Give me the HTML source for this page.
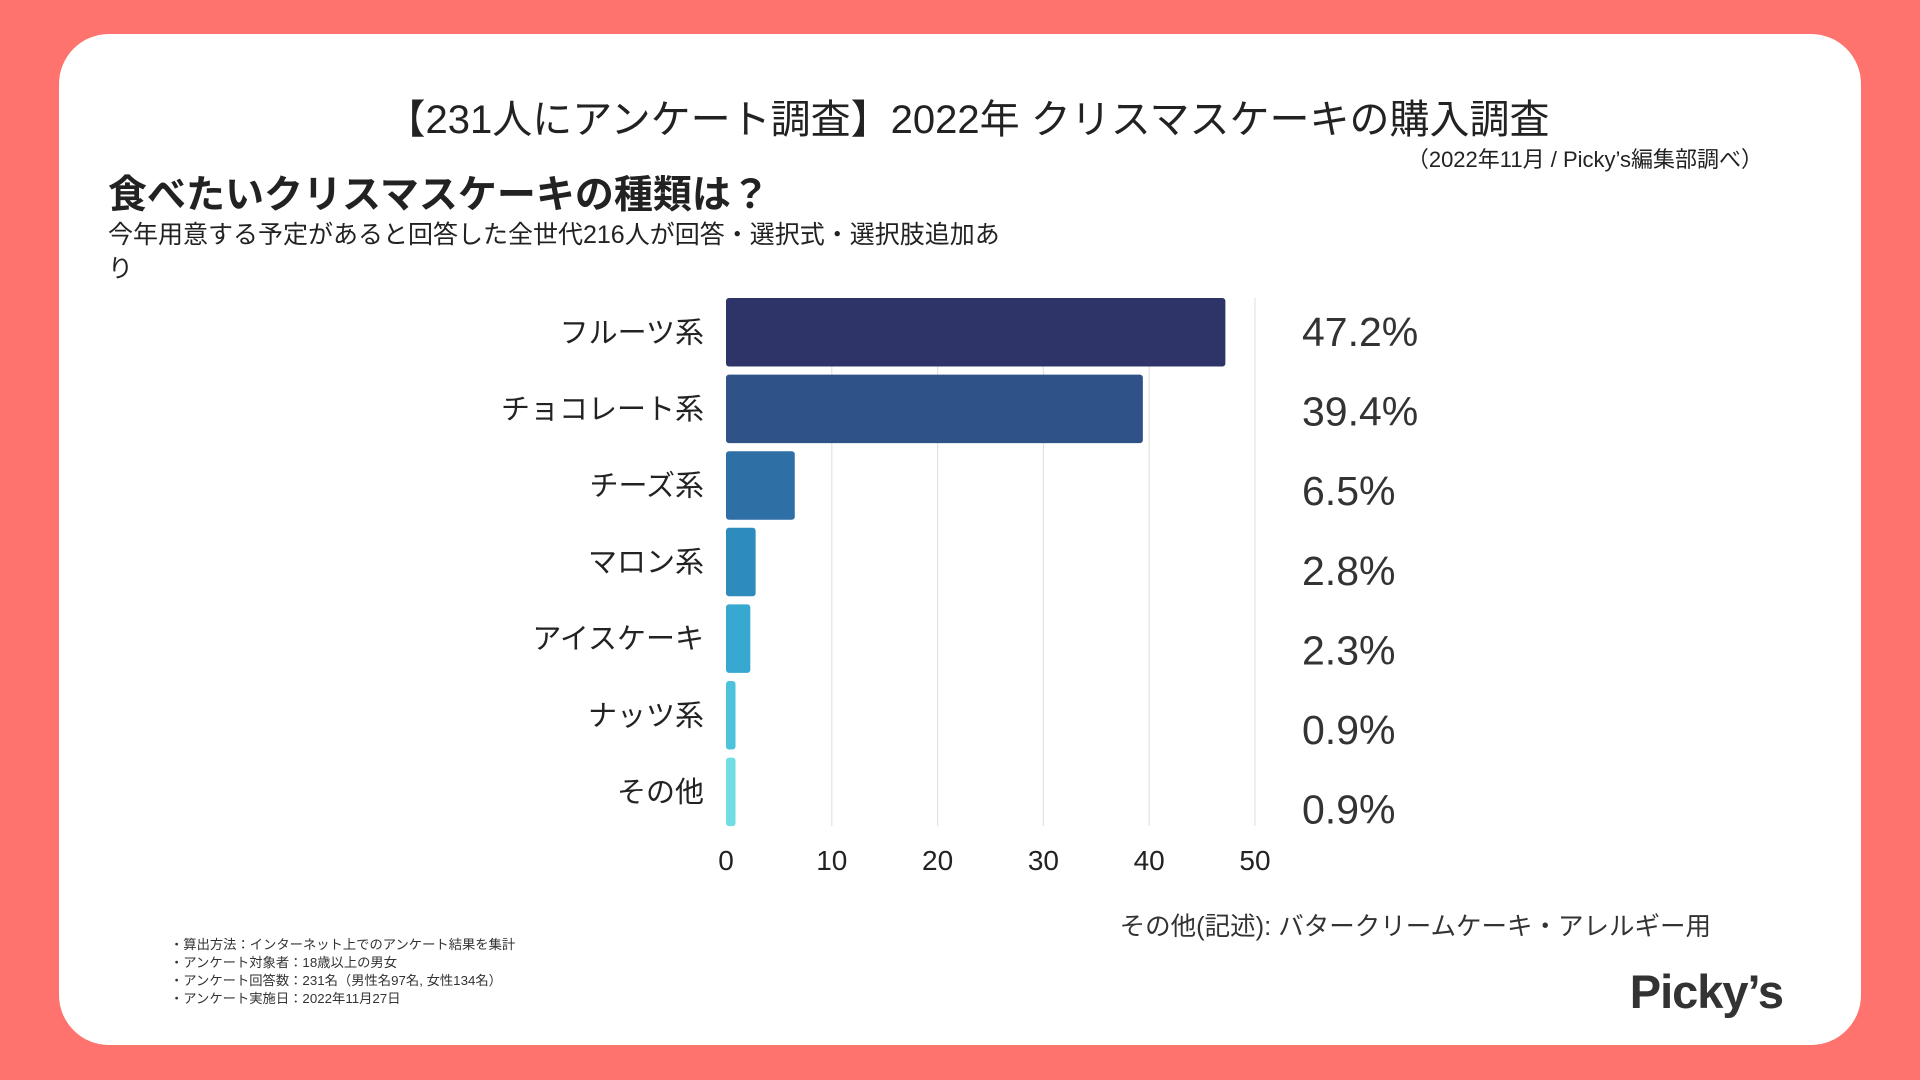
<!DOCTYPE html>
<html><head><meta charset="utf-8">
<style>
html,body{margin:0;padding:0;}
body{width:1920px;height:1080px;background:#ff736e;position:relative;overflow:hidden;font-family:"Liberation Sans","Noto Sans CJK JP",sans-serif;color:#222;}
.card{position:absolute;left:59px;top:34px;width:1802px;height:1011px;background:#fff;border-radius:50px;}
.t{position:absolute;white-space:nowrap;}
</style></head><body>
<div class="card"></div>
<div class="t" style="left:0;width:1935px;text-align:center;top:87px;font-size:40px;color:#222;">【231人にアンケート調査】2022年 クリスマスケーキの購入調査</div>
<div class="t" style="right:157px;top:142px;font-size:22px;color:#222;">（2022年11月 / Picky’s編集部調べ）</div>
<div class="t" style="left:108px;top:164px;font-size:39px;font-weight:bold;color:#222;">食べたいクリスマスケーキの種類は？</div>
<div class="t" style="left:108px;top:218px;font-size:25px;line-height:34px;color:#222;">今年用意する予定があると回答した全世代216人が回答・選択式・選択肢追加あ<br>り</div>
<svg id="chart" width="1920" height="1080" style="position:absolute;left:0;top:0;"></svg>
<div class="t" style="right:209px;top:906px;font-size:25.5px;color:#333;">その他(記述): バタークリームケーキ・アレルギー用</div>
<div class="t" style="left:170px;top:936px;font-size:13.3px;line-height:18px;color:#333;">・算出方法：インターネット上でのアンケート結果を集計<br>・アンケート対象者：18歳以上の男女<br>・アンケート回答数：231名（男性名97名, 女性134名）<br>・アンケート実施日：2022年11月27日</div>
<div class="t" style="right:137px;top:964px;font-size:47px;font-weight:bold;color:#333;letter-spacing:-1px;">Picky’s</div>
<script>
const categories=["フルーツ系","チョコレート系","チーズ系","マロン系","アイスケーキ","ナッツ系","その他"];
const values=[47.2,39.4,6.5,2.8,2.3,0.9,0.9];
const valueLabels=["47.2%","39.4%","6.5%","2.8%","2.3%","0.9%","0.9%"];
const ticks=[0,10,20,30,40,50];
const colors=["#2f3468","#2f5289","#2e6fa6","#2e8cbd","#37a8d0","#4cc3da","#72dde0"];
const svg=document.getElementById('chart');
const NS='http://www.w3.org/2000/svg';
const x0=726,x1=1255,top0=298,pitch=76.6,barH=68.5,bottom=826;
const xs=v=>x0+(v/50)*(x1-x0);
function mk(t,a){const e=document.createElementNS(NS,t);for(const k in a)e.setAttribute(k,a[k]);svg.appendChild(e);return e;}
ticks.forEach(t=>{
 if(t>0){const g=mk('line',{x1:xs(t),x2:xs(t),y1:top0,y2:bottom,stroke:'#e2e2e2','stroke-width':1.2});
 
 }
 const l=mk('text',{x:xs(t),y:870,'text-anchor':'middle','font-size':28,fill:'#222'});
 l.textContent=t;
 
 
});
categories.forEach((c,i)=>{
 const y=top0+i*pitch;
 const b=mk('rect',{x:x0,y:y,width:Math.max(xs(values[i])-x0,0),height:barH,rx:3,fill:colors[i]});
 
 
 const l=mk('text',{x:704,y:y+barH/2+10,'text-anchor':'end','font-size':29,fill:'#222'});
 l.textContent=c;
 
 
 const v=mk('text',{x:1302,y:332+i*79.6+14,'font-size':41,fill:'#333'});
 v.textContent=valueLabels[i];
 
 
});
</script>
</body></html>
